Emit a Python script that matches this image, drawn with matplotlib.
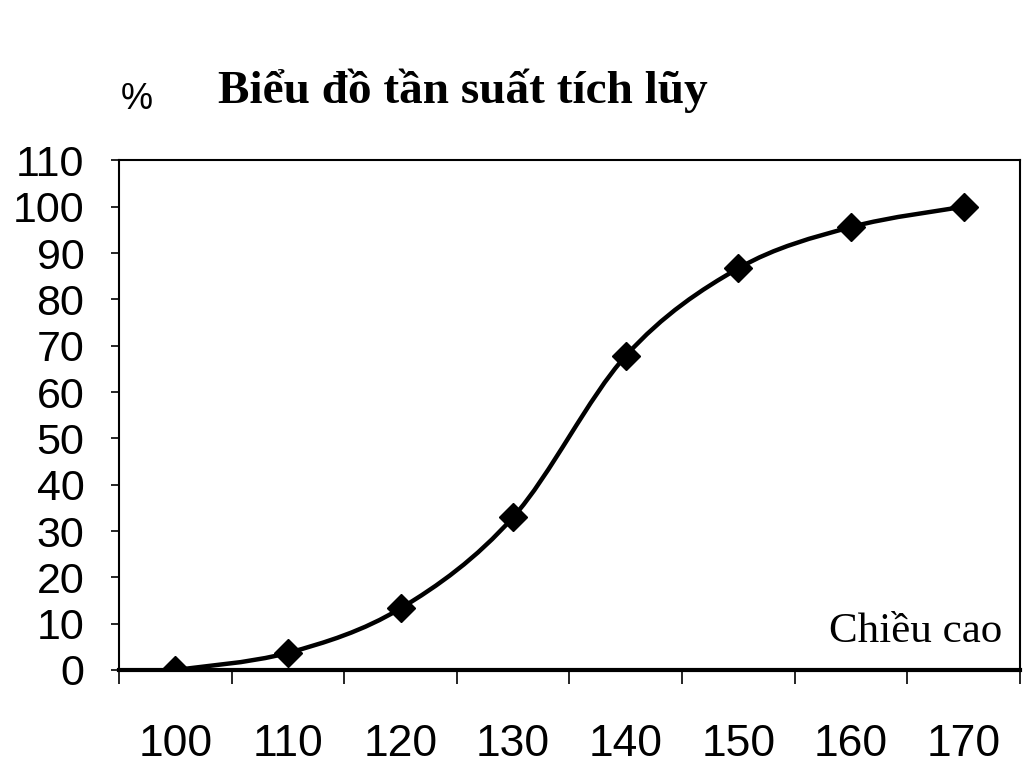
import matplotlib
matplotlib.use("Agg")
import matplotlib.pyplot as plt
from matplotlib.path import Path
from matplotlib.patches import PathPatch
import numpy as np

categories = ["100", "110", "120", "130", "140", "150", "160", "170"]
cumulative_pct = [0, 3.7, 13.3, 33, 67.8, 86.7, 95.6, 100]
y_ticks = list(range(0, 111, 10))
title = "Biểu đồ tần suất tích lũy"
y_unit = "%"
x_label = "Chiều cao"

fig = plt.figure(figsize=(10.27, 7.71), dpi=100)
ax = fig.add_axes([0.116, 0.131, 0.877, 0.661])

xs = np.arange(len(categories)) + 0.5
ys = np.array(cumulative_pct, dtype=float)

# smoothed line (Excel-like Bezier through the points)
verts = [(xs[0], ys[0])]
codes = [Path.MOVETO]
n = len(xs)
for i in range(n - 1):
    p0 = np.array([xs[max(i - 1, 0)], ys[max(i - 1, 0)]])
    p1 = np.array([xs[i], ys[i]])
    p2 = np.array([xs[i + 1], ys[i + 1]])
    p3 = np.array([xs[min(i + 2, n - 1)], ys[min(i + 2, n - 1)]])
    c1 = p1 + (p2 - p0) / 6.0
    c2 = p2 - (p3 - p1) / 6.0
    verts += [tuple(c1), tuple(c2), tuple(p2)]
    codes += [Path.CURVE4, Path.CURVE4, Path.CURVE4]
ax.add_patch(PathPatch(Path(verts, codes), facecolor="none", edgecolor="black",
                       lw=3.2, zorder=3))
ax.plot(xs, ys, linestyle="none", marker="D", markersize=14, color="black", zorder=4)

ax.set_xlim(0, len(categories))
ax.set_ylim(0, 110)

ax.set_yticks(y_ticks)
ax.set_yticklabels([str(v) for v in y_ticks], fontfamily="Liberation Sans", fontsize=31)
ax.tick_params(axis="y", direction="out", length=6, width=1.2, pad=19)

ax.set_xticks(xs)
ax.set_xticklabels(categories, fontfamily="Liberation Sans", fontsize=32)
ax.tick_params(axis="x", which="major", length=0, pad=39)
ax.set_xticks(np.arange(len(categories) + 1), minor=True)
ax.tick_params(axis="x", which="minor", direction="out", length=10, width=1.2)

for s in ax.spines.values():
    s.set_linewidth(1.5)
ax.spines["bottom"].set_linewidth(3)

fig.text(0.212, 0.882, title, fontfamily="Liberation Serif", fontweight="bold",
         fontsize=34, ha="left", va="center")
fig.text(0.118, 0.871, y_unit, fontfamily="Liberation Sans", fontsize=26,
         ha="left", va="center")
ax.text(0.98, 0.075, x_label, transform=ax.transAxes, fontfamily="Liberation Serif",
        fontsize=31, ha="right", va="center")

fig.savefig("out.png", dpi=100)
